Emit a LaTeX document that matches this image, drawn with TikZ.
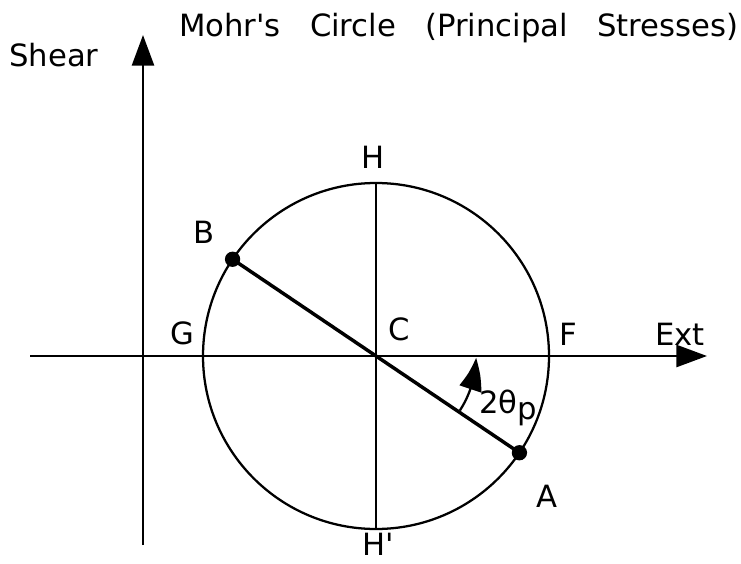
\documentclass[tikz,border=0pt]{standalone}
\usepackage{fontspec}
\setmainfont{DejaVu Sans}
\usetikzlibrary{arrows.meta,bending,calc}

\begin{document}
\begin{tikzpicture}[
    x=0.75pt,y=0.75pt,
    every node/.style={font=\fontsize{23}{27}\selectfont,inner sep=0pt},
    lbl/.style={anchor=base},
    lblw/.style={anchor=base west},
    dot/.style={circle,fill=black,minimum size=11.5pt,inner sep=0pt},
    axis/.style={-{Triangle[length=23pt,width=16.5pt]},line width=2pt},
    ring/.style={line width=1.7pt},
    diam/.style={line width=2.6pt},
    ang/.style={-{Triangle[length=24pt,width=17pt,bend]},line width=1.7pt}
  ]
    \useasboundingbox (0,0) rectangle (741,-563);
    \coordinate (C) at (376,-356);
    \coordinate (xl) at (30,-356);
    \coordinate (xr) at (707,-356);
    \coordinate (yb) at (143,-545);
    \coordinate (yt) at (143,-35);
    \coordinate (Htop) at ($(C)+(0,173)$);
    \coordinate (Hbot) at ($(C)+(0,-173)$);
    \draw[axis] (xl) -- (xr);
    \draw[axis] (yb) -- (yt);
    \draw[ring] (C) circle[radius=173];
    \draw[ring] (Htop) -- (Hbot);
    \node[dot] (B) at ($(C)+(146:173)$) {};
    \node[dot] (A) at ($(C)+(-34:173)$) {};
    \draw[diam] (B.center) -- (A.center);
    \draw[ang] ($(C)+(-33:100)$) arc[start angle=-33,end angle=-1,radius=100];
    \node[lblw] (shear) at (9,-67) {Shear};
    \node[lblw] (title) at (179,-37) {Mohr\textquotesingle s\hspace{0.95em}Circle\hspace{0.95em}(Principal\hspace{0.95em}Stresses)};
    \node[lbl] (labH) at (373,-168) {H};
    \node[lbl] (labB) at (204,-243) {B};
    \node[lbl] (labG) at (182,-344) {G};
    \node[lbl] (labC) at (399,-340) {C};
    \node[lbl] (labF) at (568,-345) {F};
    \node[lblw] (labExt) at (655,-345) {Ext};
    \node[lbl] (labA) at (547,-507) {A};
    \node[lbl] (labHp) at (378,-555) {H\textquotesingle};
    \node[lblw] (labAng) at (479,-413) {2θ\raisebox{-5pt}{p}};
  \end{tikzpicture}
\end{document}
